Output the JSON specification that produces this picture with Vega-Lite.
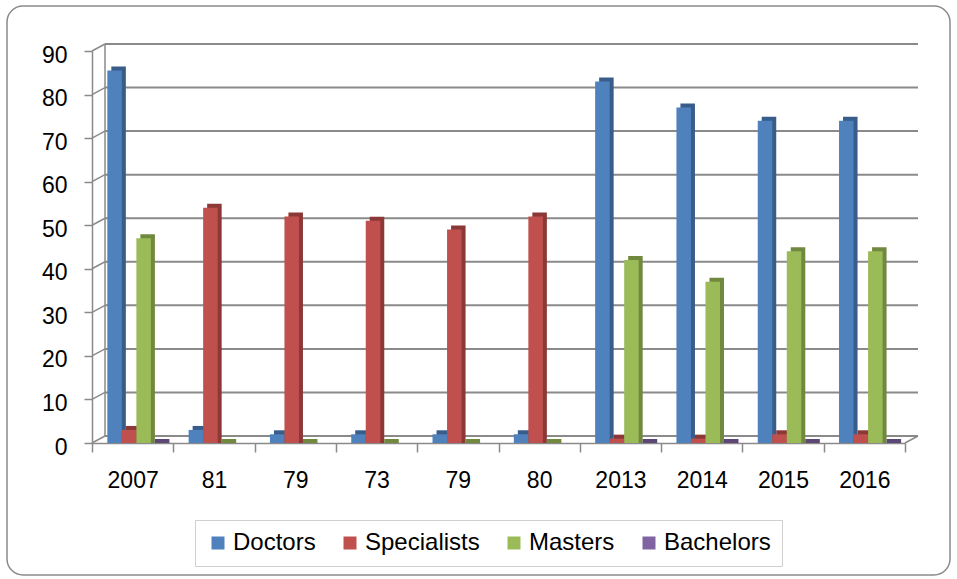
{
  "$schema": "https://vega.github.io/schema/vega-lite/v6.json",
  "width": 943,
  "height": 569,
  "autosize": {"type": "none"},
  "padding": {"left": 7, "top": 6, "right": 7, "bottom": 4},
  "background": "white",
  "config": {
    "font": "Liberation Sans",
    "view": {"stroke": "#8a8a8a", "strokeWidth": 1.5, "cornerRadius": 16, "fill": "white"}
  },
  "datasets": {
    "bars": [
      {"cat": "c1", "series": "Doctors", "value": 85.5},
      {"cat": "c1", "series": "Specialists", "value": 3},
      {"cat": "c1", "series": "Masters", "value": 47},
      {"cat": "c1", "series": "Bachelors", "value": 0},
      {"cat": "c2", "series": "Doctors", "value": 3},
      {"cat": "c2", "series": "Specialists", "value": 54},
      {"cat": "c2", "series": "Masters", "value": 0},
      {"cat": "c3", "series": "Doctors", "value": 2},
      {"cat": "c3", "series": "Specialists", "value": 52},
      {"cat": "c3", "series": "Masters", "value": 0},
      {"cat": "c4", "series": "Doctors", "value": 2},
      {"cat": "c4", "series": "Specialists", "value": 51},
      {"cat": "c4", "series": "Masters", "value": 0},
      {"cat": "c5", "series": "Doctors", "value": 2},
      {"cat": "c5", "series": "Specialists", "value": 49},
      {"cat": "c5", "series": "Masters", "value": 0},
      {"cat": "c6", "series": "Doctors", "value": 2},
      {"cat": "c6", "series": "Specialists", "value": 52},
      {"cat": "c6", "series": "Masters", "value": 0},
      {"cat": "c7", "series": "Doctors", "value": 83},
      {"cat": "c7", "series": "Specialists", "value": 1},
      {"cat": "c7", "series": "Masters", "value": 42},
      {"cat": "c7", "series": "Bachelors", "value": 0},
      {"cat": "c8", "series": "Doctors", "value": 77},
      {"cat": "c8", "series": "Specialists", "value": 1},
      {"cat": "c8", "series": "Masters", "value": 37},
      {"cat": "c8", "series": "Bachelors", "value": 0},
      {"cat": "c9", "series": "Doctors", "value": 74},
      {"cat": "c9", "series": "Specialists", "value": 2},
      {"cat": "c9", "series": "Masters", "value": 44},
      {"cat": "c9", "series": "Bachelors", "value": 0},
      {"cat": "c10", "series": "Doctors", "value": 74},
      {"cat": "c10", "series": "Specialists", "value": 2},
      {"cat": "c10", "series": "Masters", "value": 44},
      {"cat": "c10", "series": "Bachelors", "value": 0}
    ],
    "grid": [
      {"cat": "c1", "cat2": "c10", "value": 0},
      {"cat": "c1", "cat2": "c10", "value": 10},
      {"cat": "c1", "cat2": "c10", "value": 20},
      {"cat": "c1", "cat2": "c10", "value": 30},
      {"cat": "c1", "cat2": "c10", "value": 40},
      {"cat": "c1", "cat2": "c10", "value": 50},
      {"cat": "c1", "cat2": "c10", "value": 60},
      {"cat": "c1", "cat2": "c10", "value": 70},
      {"cat": "c1", "cat2": "c10", "value": 80},
      {"cat": "c1", "cat2": "c10", "value": 90}
    ],
    "wall": [
      {"cat": "c1", "value": 0, "hi": 90}
    ],
    "floor": [
      {"cat": "c10", "value": 0}
    ]
  },
  "layer": [
    {
      "data": {"name": "grid"},
      "mark": {"type": "rule", "color": "#8a8a8a", "strokeWidth": 2, "xOffset": 13, "x2Offset": 13, "yOffset": -7},
      "encoding": {
        "x": {"field": "cat", "type": "nominal", "bandPosition": 0,
              "scale": {"domain": ["c1","c2","c3","c4","c5","c6","c7","c8","c9","c10"], "range": [85, 898], "paddingInner": 0, "paddingOuter": 0},
              "axis": {"title": null, "labelAngle": 0,
                       "labelExpr": "{'c1':'2007','c2':'81','c3':'79','c4':'73','c5':'79','c6':'80','c7':'2013','c8':'2014','c9':'2015','c10':'2016'}[datum.value]",
                       "tickBand": "extent", "tickSize": 9, "tickColor": "#8a8a8a", "tickWidth": 1.5,
                       "domainColor": "#8a8a8a", "domainWidth": 1.5, "labelFontSize": 23, "labelColor": "#000000",
                       "labelFont": "Liberation Sans", "labelPadding": 17, "offset": -132, "grid": false}},
        "x2": {"field": "cat2", "bandPosition": 1},
        "y": {"field": "value", "type": "quantitative",
              "scale": {"domain": [0, 90], "range": [437, 45], "nice": false, "zero": true},
              "axis": {"title": null, "values": [0,10,20,30,40,50,60,70,80,90], "tickSize": 8, "tickColor": "#8a8a8a", "tickWidth": 1.5,
                       "domainColor": "#8a8a8a", "domainWidth": 1.5, "labelFontSize": 23, "labelColor": "#000000",
                       "labelFont": "Liberation Sans", "labelPadding": 17, "labelOffset": 4, "offset": -85, "grid": false}}
      }
    },
    {
      "data": {"name": "grid"},
      "mark": {"type": "rule", "color": "#8a8a8a", "strokeWidth": 1.5, "x2Offset": 13, "y2Offset": -7},
      "encoding": {
        "x": {"field": "cat", "type": "nominal", "bandPosition": 0},
        "x2": {"field": "cat", "bandPosition": 0},
        "y": {"field": "value", "type": "quantitative"},
        "y2": {"field": "value"}
      }
    },
    {
      "data": {"name": "wall"},
      "mark": {"type": "rule", "color": "#8a8a8a", "strokeWidth": 1.5, "xOffset": 13, "yOffset": -7, "y2Offset": -7},
      "encoding": {
        "x": {"field": "cat", "type": "nominal", "bandPosition": 0},
        "y": {"field": "value", "type": "quantitative"},
        "y2": {"field": "hi"}
      }
    },
    {
      "data": {"name": "floor"},
      "mark": {"type": "rule", "color": "#8a8a8a", "strokeWidth": 1.5, "x2Offset": 13, "y2Offset": -7},
      "encoding": {
        "x": {"field": "cat", "type": "nominal", "bandPosition": 1},
        "x2": {"field": "cat", "bandPosition": 1},
        "y": {"field": "value", "type": "quantitative"},
        "y2": {"field": "value"}
      }
    },
    {
      "data": {"name": "bars"},
      "mark": {"type": "bar", "yOffset": -4, "y2Offset": 0.5},
      "encoding": {
        "x": {"field": "cat", "type": "nominal"},
        "xOffset": {"field": "series", "type": "nominal",
                    "scale": {"domain": ["Doctors","Specialists","Masters","Bachelors"], "range": [4, 85.3], "paddingInner": 0, "paddingOuter": 0.8, "align": 0.66}},
        "y": {"field": "value", "type": "quantitative", "stack": null},
        "color": {"field": "series", "type": "nominal", "legend": null,
                  "scale": {"domain": ["Doctors","Specialists","Masters","Bachelors"], "range": ["#385D8A","#8C3836","#71893F","#5C4776"]}}
      }
    },
    {
      "data": {"name": "bars"},
      "mark": {"type": "bar"},
      "encoding": {
        "x": {"field": "cat", "type": "nominal"},
        "xOffset": {"field": "series", "type": "nominal",
                    "scale": {"domain": ["Doctors","Specialists","Masters","Bachelors"], "paddingInner": 0, "paddingOuter": 0.8, "align": 0.66}},
        "y": {"field": "value", "type": "quantitative", "stack": null},
        "color": {"field": "series", "type": "nominal",
                  "scale": {"domain": ["Doctors","Specialists","Masters","Bachelors"], "range": ["#4F81BD","#C0504D","#9BBB59","#8064A2"]},
                  "legend": {"title": null, "orient": "none", "legendX": 188, "legendY": 514, "direction": "horizontal",
                             "symbolType": "square", "symbolSize": 169, "symbolStrokeWidth": 0, "labelFontSize": 24,
                             "labelFont": "Liberation Sans", "labelColor": "#000000", "labelOffset": 3, "columnPadding": 22,
                             "padding": 11, "strokeColor": "#d0d0d0", "fillColor": "white"}}
      }
    }
  ],
  "resolve": {"scale": {"color": "independent", "xOffset": "independent"}}
}
